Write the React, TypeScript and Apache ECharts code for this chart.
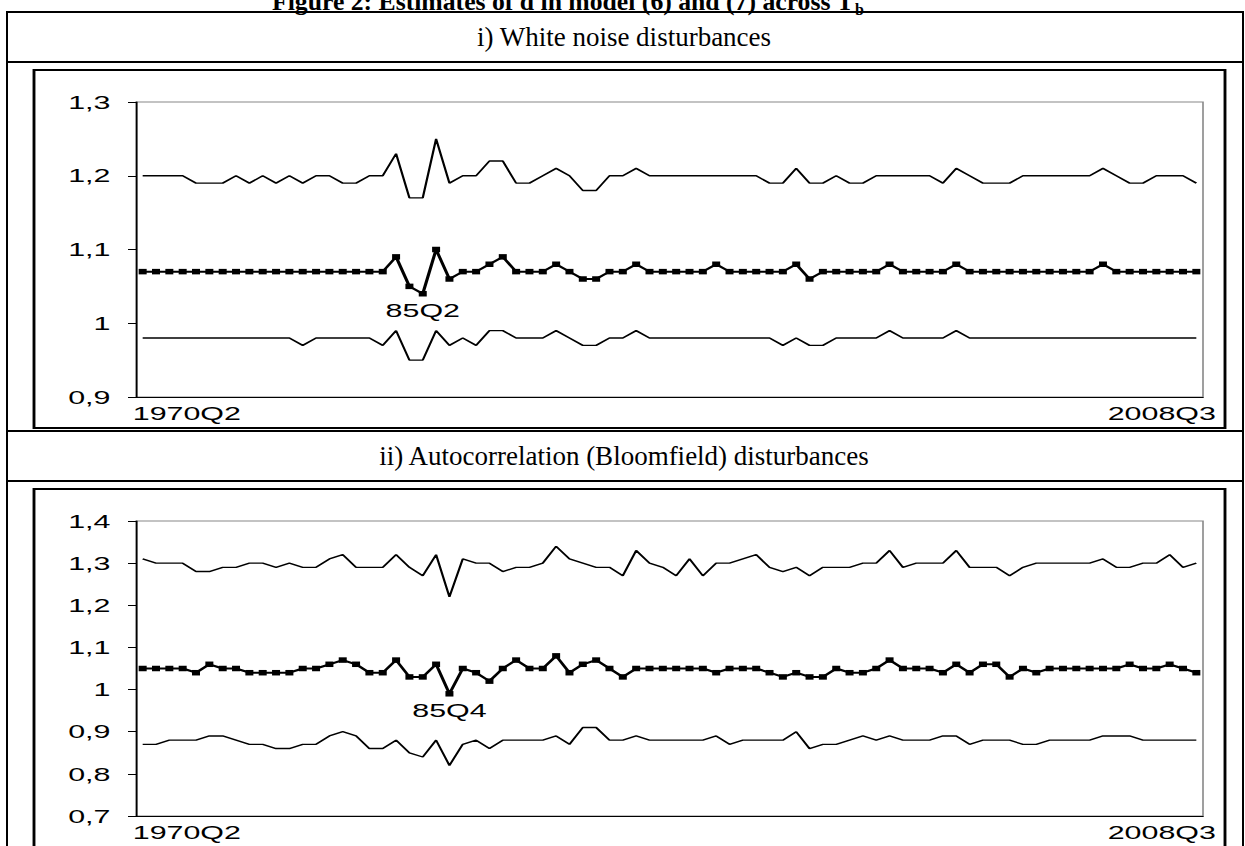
import React, { useEffect, useRef } from "react";
import * as echarts from "echarts";

// ---------- texts ----------
const figureTitle = "Figure 2: Estimates of d in model (6) and (7) across T";
const figureTitleSub = "b";
const panelTitles = ["i) White noise disturbances", "ii) Autocorrelation (Bloomfield) disturbances"];
const sampleEndLabels = ["1970Q2", "2008Q3"];

// ---------- categories (break dates T_b, quarterly) ----------
const firstBreakDate = "1980Q1";
const pointCount = 80;
function quarterSeq(start: string, n: number): string[] {
  const y0 = parseInt(start.slice(0, 4), 10);
  const q0 = parseInt(start.slice(5), 10) - 1;
  return Array.from({ length: n }, (_, i) => {
    const t = q0 + i;
    return `${y0 + Math.floor(t / 4)}Q${(t % 4) + 1}`;
  });
}
const breakDates = quarterSeq(firstBreakDate, pointCount);

// ---------- panel i) white noise ----------
const upper1 = [
  1.20, 1.20, 1.20, 1.20, 1.19, 1.19, 1.19, 1.20, 1.19, 1.20,
  1.19, 1.20, 1.19, 1.20, 1.20, 1.19, 1.19, 1.20, 1.20, 1.23,
  1.17, 1.17, 1.25, 1.19, 1.20, 1.20, 1.22, 1.22, 1.19, 1.19,
  1.20, 1.21, 1.20, 1.18, 1.18, 1.20, 1.20, 1.21, 1.20, 1.20,
  1.20, 1.20, 1.20, 1.20, 1.20, 1.20, 1.20, 1.19, 1.19, 1.21,
  1.19, 1.19, 1.20, 1.19, 1.19, 1.20, 1.20, 1.20, 1.20, 1.20,
  1.19, 1.21, 1.20, 1.19, 1.19, 1.19, 1.20, 1.20, 1.20, 1.20,
  1.20, 1.20, 1.21, 1.20, 1.19, 1.19, 1.20, 1.20, 1.20, 1.19,
];
const middle1 = [
  1.07, 1.07, 1.07, 1.07, 1.07, 1.07, 1.07, 1.07, 1.07, 1.07,
  1.07, 1.07, 1.07, 1.07, 1.07, 1.07, 1.07, 1.07, 1.07, 1.09,
  1.05, 1.04, 1.10, 1.06, 1.07, 1.07, 1.08, 1.09, 1.07, 1.07,
  1.07, 1.08, 1.07, 1.06, 1.06, 1.07, 1.07, 1.08, 1.07, 1.07,
  1.07, 1.07, 1.07, 1.08, 1.07, 1.07, 1.07, 1.07, 1.07, 1.08,
  1.06, 1.07, 1.07, 1.07, 1.07, 1.07, 1.08, 1.07, 1.07, 1.07,
  1.07, 1.08, 1.07, 1.07, 1.07, 1.07, 1.07, 1.07, 1.07, 1.07,
  1.07, 1.07, 1.08, 1.07, 1.07, 1.07, 1.07, 1.07, 1.07, 1.07,
];
const lower1 = [
  0.98, 0.98, 0.98, 0.98, 0.98, 0.98, 0.98, 0.98, 0.98, 0.98,
  0.98, 0.98, 0.97, 0.98, 0.98, 0.98, 0.98, 0.98, 0.97, 0.99,
  0.95, 0.95, 0.99, 0.97, 0.98, 0.97, 0.99, 0.99, 0.98, 0.98,
  0.98, 0.99, 0.98, 0.97, 0.97, 0.98, 0.98, 0.99, 0.98, 0.98,
  0.98, 0.98, 0.98, 0.98, 0.98, 0.98, 0.98, 0.98, 0.97, 0.98,
  0.97, 0.97, 0.98, 0.98, 0.98, 0.98, 0.99, 0.98, 0.98, 0.98,
  0.98, 0.99, 0.98, 0.98, 0.98, 0.98, 0.98, 0.98, 0.98, 0.98,
  0.98, 0.98, 0.98, 0.98, 0.98, 0.98, 0.98, 0.98, 0.98, 0.98,
];

// ---------- panel ii) Bloomfield ----------
const upper2 = [
  1.31, 1.30, 1.30, 1.30, 1.28, 1.28, 1.29, 1.29, 1.30, 1.30,
  1.29, 1.30, 1.29, 1.29, 1.31, 1.32, 1.29, 1.29, 1.29, 1.32,
  1.29, 1.27, 1.32, 1.22, 1.31, 1.30, 1.30, 1.28, 1.29, 1.29,
  1.30, 1.34, 1.31, 1.30, 1.29, 1.29, 1.27, 1.33, 1.30, 1.29,
  1.27, 1.31, 1.27, 1.30, 1.30, 1.31, 1.32, 1.29, 1.28, 1.29,
  1.27, 1.29, 1.29, 1.29, 1.30, 1.30, 1.33, 1.29, 1.30, 1.30,
  1.30, 1.33, 1.29, 1.29, 1.29, 1.27, 1.29, 1.30, 1.30, 1.30,
  1.30, 1.30, 1.31, 1.29, 1.29, 1.30, 1.30, 1.32, 1.29, 1.30,
];
const middle2 = [
  1.05, 1.05, 1.05, 1.05, 1.04, 1.06, 1.05, 1.05, 1.04, 1.04,
  1.04, 1.04, 1.05, 1.05, 1.06, 1.07, 1.06, 1.04, 1.04, 1.07,
  1.03, 1.03, 1.06, 0.99, 1.05, 1.04, 1.02, 1.05, 1.07, 1.05,
  1.05, 1.08, 1.04, 1.06, 1.07, 1.05, 1.03, 1.05, 1.05, 1.05,
  1.05, 1.05, 1.05, 1.04, 1.05, 1.05, 1.05, 1.04, 1.03, 1.04,
  1.03, 1.03, 1.05, 1.04, 1.04, 1.05, 1.07, 1.05, 1.05, 1.05,
  1.04, 1.06, 1.04, 1.06, 1.06, 1.03, 1.05, 1.04, 1.05, 1.05,
  1.05, 1.05, 1.05, 1.05, 1.06, 1.05, 1.05, 1.06, 1.05, 1.04,
];
const lower2 = [
  0.87, 0.87, 0.88, 0.88, 0.88, 0.89, 0.89, 0.88, 0.87, 0.87,
  0.86, 0.86, 0.87, 0.87, 0.89, 0.90, 0.89, 0.86, 0.86, 0.88,
  0.85, 0.84, 0.88, 0.82, 0.87, 0.88, 0.86, 0.88, 0.88, 0.88,
  0.88, 0.89, 0.87, 0.91, 0.91, 0.88, 0.88, 0.89, 0.88, 0.88,
  0.88, 0.88, 0.88, 0.89, 0.87, 0.88, 0.88, 0.88, 0.88, 0.90,
  0.86, 0.87, 0.87, 0.88, 0.89, 0.88, 0.89, 0.88, 0.88, 0.88,
  0.89, 0.89, 0.87, 0.88, 0.88, 0.88, 0.87, 0.87, 0.88, 0.88,
  0.88, 0.88, 0.89, 0.89, 0.89, 0.88, 0.88, 0.88, 0.88, 0.88,
];

// ---------- axis ranges and annotations ----------
const yRanges = [
  { min: 0.9, max: 1.3, interval: 0.1 },
  { min: 0.7, max: 1.4, interval: 0.1 },
];
const annotations = [
  { date: "1985Q2", text: "85Q2" },
  { date: "1985Q4", text: "85Q4" },
];

const panels = [
  { upper: upper1, middle: middle1, lower: lower1 },
  { upper: upper2, middle: middle2, lower: lower2 },
];

// ---------- layout ----------
// The page (table, headings) is drawn at 1:1; the two embedded chart pictures
// are horizontally stretched, as in the reference.
const W = 1245;
const H = 846;
const STRETCH = 1.6;
const WD = W / STRETCH; // design width of the stretched chart layer

const TABLE_L = 7;
const TABLE_R = 1243;
const TABLE_T = 12;
const PANEL_STEP = 419;

// chart-layer (design) x coordinates = real / STRETCH
const FRAME_L = 34 / STRETCH;
const FRAME_R = 1225 / STRETCH;
const GRID_L = 136 / STRETCH;
const GRID_R = 1203 / STRETCH;
const GRID_T = 102;
const GRID_H = 295;

const SANS = "'Liberation Sans', Arial, Helvetica, sans-serif";
const SERIF = "'Liberation Serif', 'Times New Roman', serif";

function measure(text: string, font: string): number {
  const c = document.createElement("canvas").getContext("2d");
  if (!c) return text.length * 11;
  c.font = font;
  return c.measureText(text).width;
}

function fmtY(v: number): string {
  if (Math.abs(v - 1) < 1e-9) return "1";
  return v.toFixed(1).replace(".", ",");
}

export default function App() {
  const pageRef = useRef<HTMLDivElement | null>(null);
  const chartRef = useRef<HTMLDivElement | null>(null);

  useEffect(() => {
    if (!pageRef.current || !chartRef.current) return;

    // ---------------- page layer: table, title, headings ----------------
    const page = echarts.init(pageRef.current, undefined, { renderer: "svg" });
    const pageGraphics: any[] = [];
    pageGraphics.push({
      type: "rect",
      shape: { x: TABLE_L, y: TABLE_T, width: TABLE_R - TABLE_L, height: H + 40 },
      style: { fill: "none", stroke: "#000", lineWidth: 2 },
      silent: true,
    });
    const titleFont = `bold 25.7px ${SERIF}`;
    const titleX = 272;
    const titleW = measure(figureTitle, titleFont);
    pageGraphics.push({
      type: "text",
      x: titleX,
      y: 1,
      style: { text: figureTitle, fill: "#000", font: titleFont, align: "left", verticalAlign: "middle" },
      silent: true,
    });
    pageGraphics.push({
      type: "text",
      x: titleX + titleW + 1,
      y: 9,
      style: { text: figureTitleSub, fill: "#000", font: `bold 16px ${SERIF}`, align: "left", verticalAlign: "middle" },
      silent: true,
    });
    panelTitles.forEach((t, k) => {
      const off = k * PANEL_STEP;
      if (k > 0) {
        pageGraphics.push({
          type: "line",
          shape: { x1: TABLE_L, y1: TABLE_T + off, x2: TABLE_R, y2: TABLE_T + off },
          style: { stroke: "#000", lineWidth: 2 },
          silent: true,
        });
      }
      pageGraphics.push({
        type: "line",
        shape: { x1: TABLE_L, y1: 62 + off, x2: TABLE_R, y2: 62 + off },
        style: { stroke: "#000", lineWidth: 2 },
        silent: true,
      });
      pageGraphics.push({
        type: "text",
        x: 624,
        y: 37 + off,
        style: { text: t, fill: "#000", font: `27px ${SERIF}`, align: "center", verticalAlign: "middle" },
        silent: true,
      });
    });
    page.setOption({ animation: false, backgroundColor: "#fff", graphic: pageGraphics });

    // ---------------- chart layer (stretched horizontally) ----------------
    const chart = echarts.init(chartRef.current, undefined, { renderer: "svg" });
    const grids: any[] = [];
    const xAxes: any[] = [];
    const yAxes: any[] = [];
    const series: any[] = [];
    const graphics: any[] = [];

    panels.forEach((p, k) => {
      const off = k * PANEL_STEP;
      graphics.push({
        type: "rect",
        shape: { x: FRAME_L, y: 70 + off, width: FRAME_R - FRAME_L, height: 358 },
        style: { fill: "none", stroke: "#000", lineWidth: 1.8 },
        silent: true,
      });
      graphics.push({
        type: "text",
        x: GRID_L - 2,
        y: GRID_T + GRID_H + 16 + off,
        style: { text: sampleEndLabels[0], fill: "#000", font: `19px ${SANS}`, align: "left", verticalAlign: "middle" },
        silent: true,
      });
      graphics.push({
        type: "text",
        x: GRID_R + 8,
        y: GRID_T + GRID_H + 16 + off,
        style: { text: sampleEndLabels[1], fill: "#000", font: `19px ${SANS}`, align: "right", verticalAlign: "middle" },
        silent: true,
      });

      grids.push({
        left: GRID_L,
        top: GRID_T + off,
        width: GRID_R - GRID_L,
        height: GRID_H,
        show: true,
        borderColor: "#888",
        borderWidth: 1,
        backgroundColor: "transparent",
        containLabel: false,
      });
      xAxes.push({
        type: "category",
        gridIndex: k,
        data: breakDates,
        boundaryGap: true,
        axisLine: { show: true, lineStyle: { color: "#000", width: 1 } },
        axisTick: { show: false },
        axisLabel: { show: false },
        splitLine: { show: false },
      });
      yAxes.push({
        type: "value",
        gridIndex: k,
        min: yRanges[k].min,
        max: yRanges[k].max,
        interval: yRanges[k].interval,
        axisLine: { show: true, lineStyle: { color: "#000", width: 1 } },
        axisTick: { show: true, inside: false, length: 5, lineStyle: { color: "#000", width: 1 } },
        axisLabel: {
          show: true,
          margin: 16,
          color: "#000",
          fontFamily: SANS,
          fontSize: 19,
          formatter: fmtY,
        },
        splitLine: { show: false },
      });

      const lineBase = {
        type: "line",
        xAxisIndex: k,
        yAxisIndex: k,
        symbol: "none",
        silent: true,
        lineStyle: { color: "#000", width: 1.4 },
        z: 2,
      };
      series.push({ ...lineBase, name: `upper${k + 1}`, data: p.upper });
      series.push({ ...lineBase, name: `lower${k + 1}`, data: p.lower });
      const ann = annotations[k];
      const annIdx = breakDates.indexOf(ann.date);
      series.push({
        type: "line",
        name: `estimate${k + 1}`,
        xAxisIndex: k,
        yAxisIndex: k,
        data: p.middle,
        symbol: "rect",
        symbolSize: [5, 5.5],
        showSymbol: true,
        showAllSymbol: true,
        silent: true,
        itemStyle: { color: "#000" },
        lineStyle: { color: "#000", width: 2 },
        z: 3,
        markPoint: {
          symbol: "circle",
          symbolSize: 1,
          silent: true,
          itemStyle: { color: "rgba(0,0,0,0)" },
          label: {
            show: true,
            position: "bottom",
            distance: 6,
            color: "#000",
            fontFamily: SANS,
            fontSize: 19,
            formatter: ann.text,
          },
          data: [{ name: ann.text, coord: [ann.date, p.middle[annIdx]] }],
        },
      });
    });

    chart.setOption({
      animation: false,
      backgroundColor: "transparent",
      grid: grids,
      xAxis: xAxes,
      yAxis: yAxes,
      series,
      graphic: graphics,
    });

    return () => {
      chart.dispose();
      page.dispose();
    };
  }, []);

  return (
    <div style={{ position: "absolute", left: 0, top: 0, width: W, height: H, overflow: "hidden", background: "#fff" }}>
      <div ref={pageRef} style={{ position: "absolute", left: 0, top: 0, width: W, height: H }} />
      <div
        ref={chartRef}
        style={{
          position: "absolute",
          left: 0,
          top: 0,
          width: WD,
          height: H,
          transform: `scaleX(${STRETCH})`,
          transformOrigin: "0 0",
        }}
      />
    </div>
  );
}
